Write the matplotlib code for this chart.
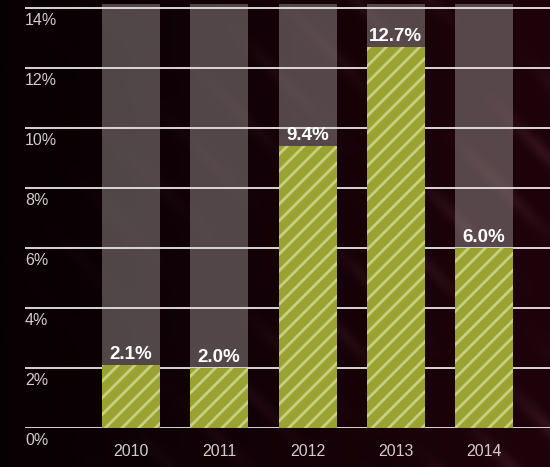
import numpy as np
import matplotlib
matplotlib.use("Agg")
import matplotlib.pyplot as plt

years = ["2010", "2011", "2012", "2013", "2014"]
values = [2.1, 2.0, 9.4, 12.7, 6.0]
y_ticks = [0, 2, 4, 6, 8, 10, 12, 14]
y_tick_labels = ["0%", "2%", "4%", "6%", "8%", "10%", "12%", "14%"]

plt.rcParams['font.family'] = ['Liberation Sans Narrow', 'Liberation Sans', 'DejaVu Sans']
plt.rcParams['hatch.linewidth'] = 2.0

W, H = 550, 467
fig = plt.figure(figsize=(W / 100, H / 100), dpi=100)

# dark maroon backdrop with faint diagonal streaks
bg = fig.add_axes([0, 0, 1, 1])
bg.set_axis_off()
xx, yy = np.meshgrid(np.linspace(0, 1, W), np.linspace(0, 1, H))
base = np.clip(0.1 + 0.9 * xx, 0, 1)
streak = 0.5 + 0.5 * np.sin((xx * 1.2 + yy) * 38.0) * np.sin((xx - yy) * 5.0)
streak = np.clip(streak, 0, 1) ** 6 * 0.16 * xx
r = 0.02 + 0.10 * base + streak * 0.5
g = 0.00 + 0.01 * base + streak * 0.35
b = 0.01 + 0.03 * base + streak * 0.38
img = np.dstack([r, g, b]).clip(0, 1)
bg.imshow(img, aspect='auto', extent=[0, 1, 0, 1], origin='lower')
bg.set_xlim(0, 1)
bg.set_ylim(0, 1)

left_px, bottom_px = 25, 467 - 428
ax = fig.add_axes([left_px / W, bottom_px / H, 1 - left_px / W, 1 - bottom_px / H])
ax.patch.set_alpha(0)
step = 88.25
x0 = (131 - left_px) / step
ax.set_xlim(-x0, -x0 + (W - left_px) / step)
ax.set_ylim(0, 428 / 30.0)
for s in ax.spines.values():
    s.set_visible(False)
ax.set_xticks([])
ax.set_yticks([])

x = np.arange(len(years))
width = 58 / step

# translucent full-height columns behind each bar
ax.bar(x, [14.15] * len(x), width=width, color='#8a8080', alpha=0.55, zorder=1, linewidth=0)

# gridlines
for t, lab in zip(y_ticks, y_tick_labels):
    ax.axhline(t, color='#e8e4e4', linewidth=1.3, zorder=2)
    ax.text(-x0, t - 0.18, lab, ha='left', va='top', color='#d4cccc', fontsize=11.5, zorder=5)

bars = ax.bar(x, values, width=width, color='#9aa331', edgecolor='#c9cf80',
              hatch='//', linewidth=0, zorder=3)

for xi, v in zip(x, values):
    ax.text(xi, v + 0.08, f"{v:.1f}%", ha='center', va='bottom', color='white',
            fontsize=13.5, fontweight='bold', zorder=6)

for xi, yr in zip(x, years):
    ax.text(xi, -0.55, yr, ha='center', va='top', color='#d4cccc', fontsize=11.5,
            zorder=5, clip_on=False)

fig.savefig("out.png", dpi=100)
